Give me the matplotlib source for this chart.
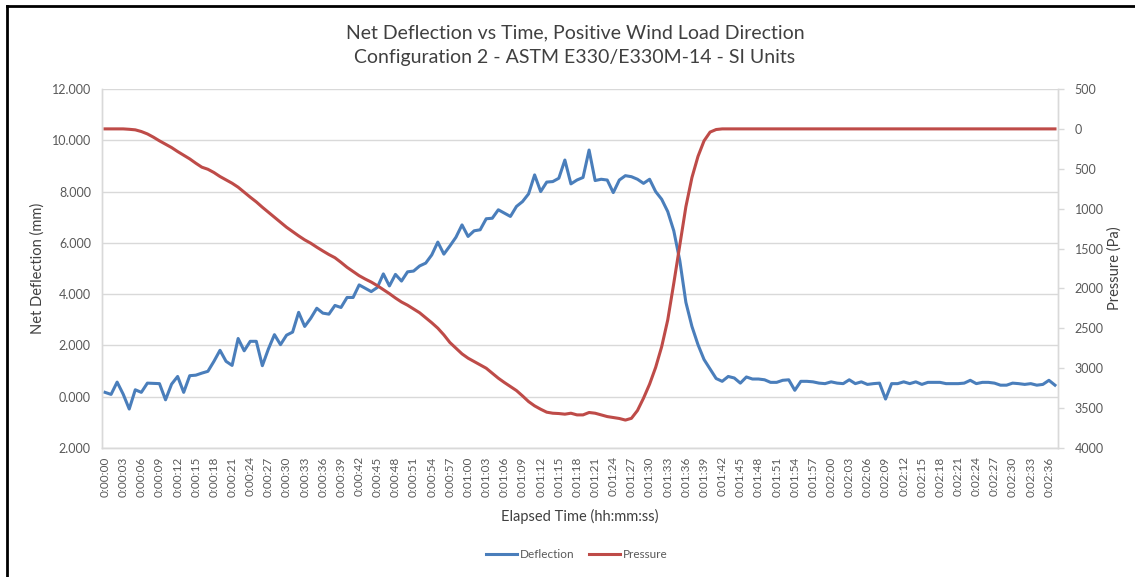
import matplotlib.pyplot as plt
from matplotlib.lines import Line2D
from matplotlib.ticker import FuncFormatter, MultipleLocator

plt.rcParams['font.family'] = ['Lato', 'DejaVu Sans']

# one sample per second, 0:00:00 .. 0:02:37
deflection = [
    0.17, 0.09, 0.57, 0.10, -0.48, 0.27, 0.17, 0.53, 0.52, 0.51,
    -0.12, 0.49, 0.79, 0.17, 0.82, 0.84, 0.92, 0.99, 1.38, 1.81,
    1.38, 1.22, 2.27, 1.79, 2.16, 2.16, 1.21, 1.86, 2.42, 2.03,
    2.40, 2.52, 3.29, 2.74, 3.06, 3.45, 3.26, 3.22, 3.56, 3.48,
    3.87, 3.87, 4.36, 4.23, 4.10, 4.26, 4.79, 4.32, 4.77, 4.51,
    4.87, 4.90, 5.10, 5.21, 5.53, 6.03, 5.56, 5.88, 6.22, 6.70,
    6.25, 6.47, 6.51, 6.94, 6.96, 7.29, 7.16, 7.03, 7.42, 7.61,
    7.91, 8.65, 8.00, 8.37, 8.39, 8.52, 9.23, 8.30, 8.45, 8.55,
    9.62, 8.43, 8.48, 8.45, 7.96, 8.45, 8.62, 8.58, 8.48, 8.32,
    8.48, 8.00, 7.70, 7.22, 6.47, 5.30, 3.68, 2.74, 2.03, 1.45,
    1.08, 0.71, 0.60, 0.79, 0.73, 0.53, 0.77, 0.69, 0.69, 0.66,
    0.56, 0.56, 0.64, 0.66, 0.25, 0.60, 0.60, 0.58, 0.53, 0.51,
    0.58, 0.53, 0.51, 0.66, 0.51, 0.58, 0.48, 0.51, 0.53, -0.09,
    0.51, 0.51, 0.58, 0.51, 0.58, 0.48, 0.56, 0.56, 0.56, 0.51,
    0.51, 0.51, 0.53, 0.64, 0.51, 0.56, 0.56, 0.53, 0.45, 0.45,
    0.53, 0.51, 0.48, 0.51, 0.45, 0.48, 0.64, 0.45,
]

pressure = [
    0, 0, 0, 0, 5, 12, 33, 63, 104, 150,
    192, 234, 284, 330, 376, 430, 480, 506, 547, 597,
    639, 681, 731, 794, 856, 915, 982, 1045, 1107, 1170,
    1233, 1287, 1341, 1391, 1433, 1483, 1530, 1575, 1615, 1673,
    1735, 1788, 1840, 1882, 1920, 1965, 2015, 2065, 2120, 2170,
    2210, 2258, 2305, 2367, 2430, 2498, 2582, 2678, 2749, 2820,
    2874, 2916, 2958, 3000, 3062, 3125, 3179, 3230, 3280, 3347,
    3418, 3472, 3514, 3551, 3564, 3568, 3576, 3564, 3585, 3585,
    3555, 3564, 3585, 3606, 3618, 3630, 3650, 3628, 3530, 3375,
    3200, 2990, 2730, 2395, 1935, 1455, 975, 610, 345, 150,
    40, 8, 0, 0, 0, 0, 0, 0, 0, 0,
    0, 0, 0, 0, 0, 0, 0, 0, 0, 0,
    0, 0, 0, 0, 0, 0, 0, 0, 0, 0,
    0, 0, 0, 0, 0, 0, 0, 0, 0, 0,
    0, 0, 0, 0, 0, 0, 0, 0, 0, 0,
    0, 0, 0, 0, 0, 0, 0, 0,
]

time_labels = [f"0:{s // 60:02d}:{s % 60:02d}" for s in range(len(deflection))]

BLUE = '#4a7ebb'
RED = '#be4b48'
TXT = '#595959'
GRID = '#d9d9d9'

W, H = 1135, 577
fig = plt.figure(figsize=(W / 100, H / 100), dpi=100)
ax = fig.add_axes([102 / W, 1 - 448 / H, 956 / W, 359 / H])

x = list(range(len(deflection)))
ax.plot(x, deflection, color=BLUE, lw=2.2, solid_joinstyle='round')
ax.set_xlim(-0.5, len(x) - 0.5)
ax.set_ylim(-2, 12)
ax.yaxis.set_major_locator(MultipleLocator(2))
ax.yaxis.set_major_formatter(FuncFormatter(lambda v, p: f"{abs(v):.3f}"))
ax.grid(axis='y', color=GRID, lw=1)
ax.set_axisbelow(True)
ax.set_xticks(x[::3])
ax.set_xticklabels(time_labels[::3], rotation=90)
ax.tick_params(axis='x', length=0, pad=6, labelsize=8.5, colors=TXT)
ax.tick_params(axis='y', length=0, pad=8, labelsize=9, colors=TXT)

ax2 = ax.twinx()
ax2.plot(x, pressure, color=RED, lw=2.2)
ax2.set_ylim(4000, -500)
ax2.yaxis.set_major_locator(MultipleLocator(500))
ax2.yaxis.set_major_formatter(FuncFormatter(lambda v, p: f"{abs(v):.0f}"))
ax2.tick_params(axis='y', length=4, width=1, color=GRID, pad=8, labelsize=9, labelcolor=TXT)

for a in (ax, ax2):
    a.spines['top'].set_visible(False)
    for s in ('left', 'right', 'bottom'):
        a.spines[s].set_color(GRID)
        a.spines[s].set_linewidth(1)

fig.text(575 / W, 1 - 33 / H, 'Net Deflection vs Time, Positive Wind Load Direction',
         ha='center', va='center', fontsize=14, color='#404040')
fig.text(575 / W, 1 - 58 / H, 'Configuration 2 - ASTM E330/E330M-14 - SI Units',
         ha='center', va='center', fontsize=14, color='#404040')
fig.text(38 / W, 1 - 268 / H, 'Net Deflection (mm)', rotation=90,
         ha='center', va='center', fontsize=10.5, color='#404040')
fig.text(1115 / W, 1 - 268 / H, 'Pressure (Pa)', rotation=90,
         ha='center', va='center', fontsize=10.5, color='#404040')
fig.text(580 / W, 1 - 516 / H, 'Elapsed Time (hh:mm:ss)',
         ha='center', va='center', fontsize=10.5, color='#404040')

handles = [Line2D([], [], color=BLUE, lw=2.2), Line2D([], [], color=RED, lw=2.2)]
fig.legend(handles, ['Deflection', 'Pressure'], loc='center', bbox_to_anchor=(577 / W, 1 - 555 / H),
           ncol=2, frameon=False, fontsize=8.5, labelcolor=TXT, handlelength=2.6,
           handletextpad=0.3, columnspacing=1.2)

# black frame on the left and top edges
fig.add_artist(Line2D([7 / W, 7 / W], [0, 1 - 6 / H], transform=fig.transFigure, color='k', lw=2))
fig.add_artist(Line2D([7 / W, 1], [1 - 6 / H, 1 - 6 / H], transform=fig.transFigure, color='k', lw=2))

fig.savefig('out.png', dpi=100)
